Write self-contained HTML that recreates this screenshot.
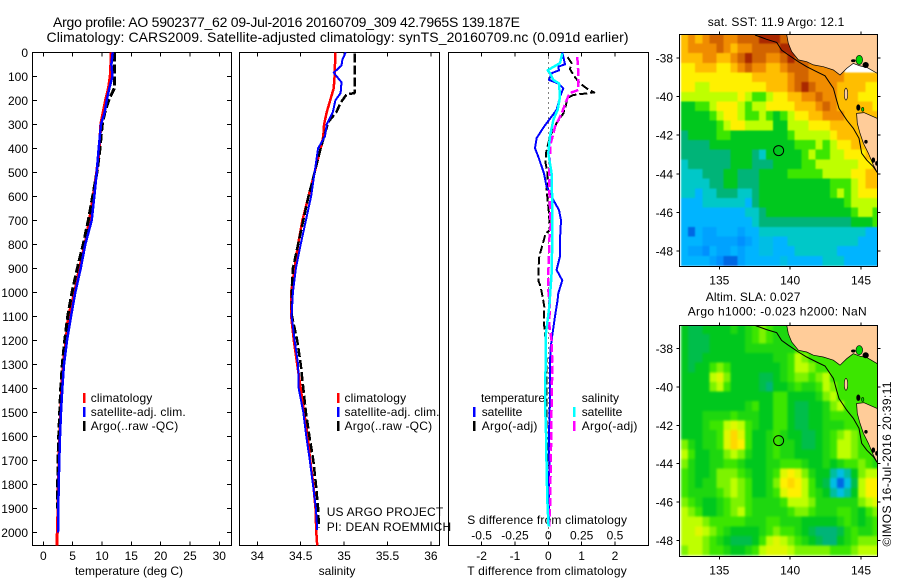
<!DOCTYPE html>
<html lang="en">
<head>
<meta charset="utf-8">
<title>Argo profile AO 5902377_62</title>
<style>
  html, body { margin: 0; padding: 0; background: #fff; }
  svg { display: block; font-family: "Liberation Sans", sans-serif; fill: #000; }
  text { font-size: 12px; }
  .main { font-size: 14px; }
  .crisp { shape-rendering: crispEdges; }
</style>
</head>
<body>
<svg id="figure" width="900" height="580" viewBox="0 0 900 580" xmlns="http://www.w3.org/2000/svg">
  <text class="main" x="53" y="27" textLength="467" lengthAdjust="spacing">Argo profile: AO 5902377_62 09-Jul-2016 20160709_309 42.7965S 139.187E</text>
  <text class="main" x="46.5" y="42" textLength="582" lengthAdjust="spacing">Climatology: CARS2009. Satellite-adjusted climatology: synTS_20160709.nc (0.091d earlier)</text>

  <text x="129" y="575" text-anchor="middle">temperature (deg C)</text>
  <text x="337" y="575" text-anchor="middle">salinity</text>
  <text x="467.3" y="575" textLength="159.4" lengthAdjust="spacing">T difference from climatology</text>
  <text x="467.3" y="524" textLength="159.7" lengthAdjust="spacing">S difference from climatology</text>

  <text x="90.7" y="402" textLength="61.6" lengthAdjust="spacing">climatology</text>
  <text x="90.7" y="416" textLength="95" lengthAdjust="spacing">satellite-adj. clim.</text>
  <text x="90.7" y="430" textLength="87.6" lengthAdjust="spacing">Argo(..raw -QC)</text>

  <text x="344.5" y="402" textLength="61.6" lengthAdjust="spacing">climatology</text>
  <text x="344.5" y="416" textLength="95" lengthAdjust="spacing">satellite-adj. clim.</text>
  <text x="344.5" y="430" textLength="87.6" lengthAdjust="spacing">Argo(..raw -QC)</text>

  <text x="481" y="402" textLength="64" lengthAdjust="spacing">temperature</text>
  <text x="481.7" y="416" textLength="40.6" lengthAdjust="spacing">satellite</text>
  <text x="481.7" y="430" textLength="55.7" lengthAdjust="spacing">Argo(-adj)</text>
  <text x="581.7" y="402" textLength="37.3" lengthAdjust="spacing">salinity</text>
  <text x="581.7" y="416" textLength="40.6" lengthAdjust="spacing">satellite</text>
  <text x="581.7" y="430" textLength="55.7" lengthAdjust="spacing">Argo(-adj)</text>

  <text x="326.7" y="516" textLength="116.5" lengthAdjust="spacing">US ARGO PROJECT</text>
  <text x="326.7" y="531" textLength="124.5" lengthAdjust="spacing">PI: DEAN ROEMMICH</text>

  <text x="707.7" y="26" textLength="136.6" lengthAdjust="spacing">sat. SST: 11.9 Argo: 12.1</text>
  <text x="705.7" y="301" textLength="94.7" lengthAdjust="spacing">Altim. SLA: 0.027</text>
  <text x="687.7" y="315.5" textLength="179" lengthAdjust="spacing">Argo h1000: -0.023 h2000: NaN</text>
  <text transform="translate(891,546.5) rotate(-90)" textLength="165" lengthAdjust="spacing">©IMOS 16-Jul-2016 20:39:11</text>
</svg>

<script>
/* ---------- profile panel 1: temperature ---------- */
const tempDepths = [0,50,100,150,200,250,300,400,500,600,700,800,900,1000,1100,1200,1300,1400,1500,1600,1700,1800,1900,2000,2054];
const tempClim = [11.54,11.5,11.4,11.1,10.6,10.2,9.8,9.55,9.1,8.5,7.85,7.1,6.15,5.35,4.26,3.87,3.4,3.13,2.96,2.79,2.68,2.56,2.5,2.39,2.3];
const tempSat = [11.83,11.6,11.8,11.25,10.8,10.46,9.83,9.44,9.1,8.7,8.25,7.16,6.37,5.45,4.72,4.04,3.53,3.24,3.02,2.85,2.73,2.62,2.56,2.5];
const tempArgo = [12.1,12.1,12.1,12.1,11.15,10.5,10.06,9.66,9.15,8.4,7.67,6.8,5.8,4.9,4.16,3.65,3.24,2.96,2.8,2.62,2.5,2.45,2.4];

/* ---------- profile panel 2: salinity ---------- */
const salClimDepths = [0,100,150,200,250,300,350,400,500,600,700,800,900,1000,1100,1200,1300,1400,1500,1600,1700,1800,1900,2000,2054];
const salClim = [34.9,34.89,34.88,34.84,34.8,34.77,34.76,34.73,34.66,34.59,34.52,34.47,34.43,34.39,34.39,34.42,34.46,34.5,34.54,34.58,34.61,34.645,34.67,34.68,34.69];
const salSatDepths = [0,30,55,85,125,170,200,250,300,350,400,500,600,700,800,900,1000,1100,1200,1300,1400,1500,1600,1700,1800,1900,1990];
const salSat = [35.02,34.98,34.97,34.88,34.97,34.96,34.9,34.87,34.8,34.78,34.7,34.66,34.62,34.56,34.5,34.445,34.41,34.395,34.43,34.47,34.477,34.53,34.565,34.605,34.64,34.675,34.69];
const salArgoDepths = [5,170,175,210,250,285,300,400,500,600,700,800,900,1000,1100,1200,1300,1400,1500,1600,1700,1800,1900,1980];
const salArgo = [35.12,35.12,35.03,34.96,34.91,34.83,34.81,34.73,34.66,34.59,34.53,34.47,34.41,34.395,34.4,34.46,34.5,34.53,34.56,34.6,34.645,34.675,34.7,34.71];

/* ---------- profile panel 3: differences from climatology ---------- */
const diffTSatDepths = [0,50,60,75,87,115,130,150,185,240,268,310,358,400,435,505,560,615,657,700,780,850,907,950,1004,1032,1100,1170,1240,1449,1587,1726,1865,1976];
const diffTSat = [.42,.5,.3,.32,.1,.02,.3,.45,.35,.25,.1,-.13,-.35,-.4,-.3,-.13,-.05,.15,.32,.38,.35,.35,.25,.42,.3,.28,.2,.13,.06,.05,.02,.03,.02,.02];
const diffTArgoDepths = [20,45,70,100,130,155,167,178,190,225,255,295,350,420,462,505,575,670,740,755,790,850,907,950,977,1018,1060,1130,1200,1310,1449,1587,1657,1726];
const diffTArgo = [.58,.7,.65,.78,.95,1.2,1.38,.75,.58,.52,.45,.25,.05,-.07,-.08,-.02,-.05,.02,.05,-.08,-.15,-.27,-.3,-.3,-.23,-.17,-.12,-.13,-.08,-.05,-.05,-.05,-.03,0];
const diffSSatDepths = [5,45,75,87,115,130,185,240,282,350,420,505,643,780,920,1060,1170,1310,1449,1587,1726,1865,1976];
const diffSSat = [.105,.0875,-.005,.0125,.0375,.08,.0875,.07,.0375,.0125,0,.025,.03,.03,.025,.0075,-.0175,-.02,-.025,-.0175,-.0125,-.0075,.0025];
const diffSArgoDepths = [20,87,157,170,200,255,310,393,435,505,575,643,727,780,850,920,990,1060,1130,1200,1310,1449,1587,1726,1865,1976];
const diffSArgo = [.2175,.225,.225,.16,.1375,.1,.05,.0125,.0125,.005,.0075,.0125,.0175,.0075,.005,0,0,.0125,.005,.025,.03,.025,.0225,.0175,.015,.005];

/* ---------- tick labels ---------- */
const depthTicks = [0,100,200,300,400,500,600,700,800,900,1000,1100,1200,1300,1400,1500,1600,1700,1800,1900,2000];
const tempTicks = [0,5,10,15,20,25,30];
const salTicks = ["34","34.5","35","35.5","36"];
const diffTTicks = [-2,-1,0,1,2];
const diffSTicks = ["-0.5","-0.25","0","0.25","0.5"];
const lonTicks = [135,140,145];
const latTicks = [38,40,42,44,46,48];

/* ---------- map fields: colour level per 0.5 degree cell, north to south ---------- */
const sstLevels = [
[9,10,9,10,11,11,10,10,11,11,11,12,12,12,11,11],
[9,10,10,10,10,11,10,9,10,10,11,11,11,11,12,12,12],
[9,9,9,10,10,9,9,10,11,12,11,11,10,10,11,12,11,11,11],
[8,8,9,9,9,8,8,9,10,11,10,10,9,9,10,11,11,11,10,10,10,10,10],
[8,8,8,8,8,8,8,8,8,8,9,9,9,9,9,10,11,11,10,10,10,10,10,9,9,9,9,9],
[8,8,7,7,8,8,8,8,8,8,8,8,9,9,9,10,11,12,11,10,10,10,9,9,9,9,8,8],
[7,7,7,7,7,7,7,7,8,7,6,6,7,8,8,9,9,10,10,11,10,10,9,9,9,8,8,8],
[5,5,6,6,7,8,8,8,7,6,7,7,8,8,8,8,9,9,9,10,11,10,9,9,9,9,9,8],
[5,5,5,5,6,7,8,8,7,6,6,7,6,5,6,7,8,8,9,9,10,10,10,9,9,9,9,9],
[5,5,5,5,5,6,7,8,8,7,7,7,7,5,5,7,7,7,8,8,8,9,9,9,9,9,9,9],
[4,5,5,5,5,6,6,5,5,5,5,5,5,5,5,6,7,7,7,7,7,8,9,9,9,9,9,9],
[4,4,4,4,5,5,5,5,5,5,5,5,5,5,5,5,6,6,6,7,6,7,8,8,9,9,9,9],
[4,4,4,4,4,4,4,5,5,5,4,3,5,5,5,5,5,6,7,6,6,7,7,8,8,8,9,9],
[3,4,4,4,4,4,4,5,5,5,4,4,4,5,5,5,5,6,6,7,7,7,7,7,7,8,8,9],
[3,3,3,4,4,4,5,5,4,4,4,5,5,5,5,6,6,6,6,6,7,7,7,7,8,8,9,9],
[3,3,3,3,4,4,5,5,4,4,4,5,5,5,5,5,5,5,5,5,5,6,6,6,7,8,9,9],
[3,3,2,3,3,4,4,4,3,3,4,5,5,5,5,5,5,5,5,5,5,6,7,6,7,8,8,8],
[2,2,2,3,3,3,3,3,3,2,4,5,5,5,5,5,5,5,5,5,5,5,5,6,7,7,7,7],
[2,2,2,2,2,2,2,2,2,3,3,4,5,5,5,5,5,5,5,5,5,5,5,5,6,7,7,6],
[2,2,2,2,2,2,2,2,2,2,3,4,4,4,4,4,4,4,4,4,4,4,4,4,5,5,5,6],
[2,0.5,2,1.5,1.5,2,2,2,1.5,2,2,3,3,3,3,3,3,3,3,3,3,3,3,3,3,3,2,2],
[2,2,2,1.5,1.5,1.5,1.5,1.5,1,1.5,2,2.5,2.5,2,2,3,3,3,3,3,3,3,3,3,3,2,2,2],
[2,1.5,1.5,1,2,1.5,1.5,2,1.5,2,2,2.5,2.5,2,2,2,3,3,3,3,3,3,2,2,2,2,2,2],
[2,2,2,2,1.5,1,0.5,0.5,1.5,2,2,2,2,2,2.5,2,2,2,2,2,3,3,3,2,2,2,2,2]
];
const slaLevels = [
[5,4.5,4.5,5,5,5,5,5.5,5,5.5,6,6.5,6,5.5,5.5,5.5],
[5,4.5,4.5,4.5,5,5,5,5,5,5.5,6,6.5,6,5.5,5.5,5.5,5.5],
[5,4.5,4.5,4.5,5,5,5,5,5,5.5,5.5,5.5,5.5,5.5,5.5,5.5,6,6,6],
[5,4.5,4.5,5,5,5,5,5,5,5,5,5,5,5.5,5.5,6,7,6.5,6,6,6,6,6,6,6,6,6,6],
[5,4.5,5,5,6,6.5,6,5,5,5,5,5,5,5,5.5,6,7,7,6.5,6,6,6,6,6,6,6,6,6],
[5,5,5,5,7,7.5,6.5,5,5,5,5,4.5,4.5,5,5.5,6,6.5,6.5,6,6.5,7,6,6,6,6,6,6,6],
[5,5,5,5,6.5,7,6,5,5,5,5,4.5,4,5,5,5.5,6,5.5,5.5,6,7,6.5,6,6,6,6,6,6],
[5,5,5,5,5,5,5,5,5,5,5,5,5,6,6,5,5,5,5,5.5,6.5,7,6,6,6,6,6,6],
[5,5,5,5,5,5,5,5,5,5.5,6,5,5,6,6,5,4.5,4.5,5,5,5.5,6.5,7,6,6,6,6,6],
[5,5,5,5.5,5.5,5.5,5.5,6,5.5,5.5,5.5,5,5,6,6,5,4.5,4.5,5,5,5.5,6,6,6,6,6,6,6],
[5,5,5,5.5,6,6,7,7.5,7,6,5.5,5,5,6,6,5,4.5,4.5,5,5,5.5,5.5,5.5,6,6,6,6,6],
[5,5,5,5.5,5.5,6,7.5,8.5,7.5,6,5,5,5.5,6,5.5,5,5,4.5,4.5,5,5.5,6,6.5,7,6.5,6,6,6],
[6.5,5.5,5,5.5,5.5,6,7.5,8.5,8,6,5,5,5.5,6,5.5,5.5,5,4.5,4.5,5,5.5,6,7,7,6.5,6,6,6],
[7,6,5,5,5.5,5.5,6.5,7,6.5,5.5,5,5,5.5,6,5.5,5.5,5,5,5,5,5.5,6,7,7,6.5,6,6,6],
[6.5,5.5,5,5,5.5,5.5,6,6,5.5,5,5,5,5.5,5.5,6,6,6,5.5,5,5,5.5,5,5.5,6,6,6.5,6,5.5],
[6,5.5,5,5,5.5,6.5,6.5,6.5,6,5.5,5,5,5.5,6,7.5,8,7.5,6.5,5.5,5,5,3.5,2.5,3.5,5,6.5,7,7],
[6,5.5,5,5.5,5.5,6.5,6.5,7,6.5,6,5,5,5.5,6.5,8,8.5,8,7,6,5,4.5,2.5,0.5,2.5,4.5,7,8,8],
[6,5.5,5.5,5.5,5.5,6,6.5,7,6.5,6,5,5,5.5,6,7.5,8,8,7,6,5.5,5,3.5,2.5,3.5,5,7,8,8],
[6.5,6,5.5,5,5,5.5,6,6.5,6.5,6,5.5,5.5,5.5,5.5,6,7,7,7,6.5,5.5,5.5,5.5,5.5,5.5,5.5,6.5,7,7.5],
[7,6.5,6,5,5,5.5,6,6.5,7,6,5.5,5.5,5.5,5.5,5.5,6,6.5,6.5,6,5.5,5.5,5.5,6,6,5.5,5,6,6.5],
[7,7,7,6.5,6,6,6,6,6,5.5,5.5,5.5,6,6,5.5,5.5,5.5,5,5,5,5,5,5.5,6,5.5,5,5.5,6],
[7,7,7.5,7,6.5,6,5.5,5,5,5,5,5.5,6,6.5,6,6,5.5,5,4.5,4,4,4,4.5,5.5,6,5.5,5.5,6],
[7,7,7,6.5,6,5.5,5,4.5,4.5,4.5,5,6,7,7.5,7,6.5,6,5.5,5,4.5,4,4,5,5.5,6,6.5,6.5,6.5],
[6.5,7,7,6.5,6,6,5.5,5,5,5.5,6,7,7.5,7.5,7.5,7,6.5,6.5,6.5,6.5,6.5,6,6,6,6.5,7,7,7]
];

/* ---------- geography in [longitude E, latitude S] ---------- */
const mainlandCoast = [[139.75,36.76],[139.87,37.24],[140.11,37.67],[140.58,38.1],[141.17,38.19],[141.64,38.36],[142.34,38.45],[143.05,38.62],[143.52,38.88],[143.99,38.54],[144.46,38.28],[144.93,38.41],[145.4,38.48],[146.15,38.8],[146.15,36.76]];
const tasmaniaCoast = [[144.69,40.87],[145.21,40.83],[146.15,41.13],[146.15,43.94],[145.87,43.54],[145.52,42.94],[145.17,42.42],[144.93,41.9],[144.74,41.39]];
const shelfContour = [[137.52,36.81],[138.34,37.03],[139.05,37.19],[139.4,37.59],[139.87,37.84],[140.58,38.19],[141.17,38.45],[141.87,38.71],[142.46,38.92],[143.05,39.57],[143.28,40.18],[143.45,40.61],[143.99,41.21],[144.46,41.64],[144.86,42.16],[145.05,42.94],[145.4,43.29],[145.87,43.63],[146.15,43.94]];
const argoPosition = [139.187,42.7965];

/* ---------- drawing helpers ---------- */
const SVGNS = 'http://www.w3.org/2000/svg';
const svg = document.getElementById('figure');
const levelStops = ['#0040c8','#0090ff','#00b4ff','#00c8c8','#00b478','#00c81e','#3ce600','#beff00','#fff000','#ffbe00','#f08c00','#d26400','#aa2800'];

function make(tag, parent, props) {
  const el = document.createElementNS(SVGNS, tag);
  for (const k in props) el.setAttribute(k, props[k]);
  parent.appendChild(el);
  return el;
}
function hexToRgb(h) {
  return [parseInt(h.slice(1,3),16), parseInt(h.slice(3,5),16), parseInt(h.slice(5,7),16)];
}
function levelColor(v) {
  const i = Math.max(0, Math.min(levelStops.length - 2, Math.floor(v)));
  const f = Math.max(0, Math.min(1, v - i));
  const a = hexToRgb(levelStops[i]), b = hexToRgb(levelStops[i + 1]);
  return 'rgb(' + a.map((c, n) => Math.round(c + (b[n] - c) * f)).join(',') + ')';
}
function yDepth(d) { return 52.3 + 0.24 * d; }
function xTemp(t) { return 43.3 + 5.867 * t; }
function xSal(s) { return 257.3 + 86.8 * (s - 34); }
function xDiffT(t) { return 548.3 + 33.33 * t; }
function xDiffS(s) { return 548.3 + 133.3 * s; }

function addFrame(name, x0, x1, y0, y1) {
  const r = make('rect', svg, {x: x0, y: y0, width: x1 - x0, height: y1 - y0, fill: 'none', stroke: '#000', 'stroke-width': 1, class: 'crisp'});
  
  
}
function addLine(name, x1, y1, x2, y2) {
  const l = make('line', svg, {x1, y1, x2, y2, stroke: '#000', 'stroke-width': 1, class: 'crisp'});
  
  
}
function addLabel(name, x, y, str, anchor) {
  const t = make('text', svg, {x, y, 'text-anchor': anchor});
  t.textContent = str;
  
  
}
function addSeries(name, depths, values, xFn, color, width, dash) {
  const pts = values.map((v, i) => xFn(v).toFixed(1) + ',' + yDepth(depths[i]).toFixed(1)).join(' ');
  const p = make('polyline', svg, {points: pts, fill: 'none', stroke: color, 'stroke-width': width, class: 'crisp', 'stroke-linejoin': 'round'});
  if (dash) p.setAttribute('stroke-dasharray', dash);
  
  
}
function addLegendMark(name, x, y, color) {
  const r = make('rect', svg, {x, y, width: 2.5, height: 10, fill: color, class: 'crisp'});
  
  
}

/* ---------- profile panels ---------- */
const panelTop = 52.5, panelBottom = 545.5;
function addProfileAxes(prefix, x0, x1, ticksX) {
  addFrame(prefix + '-frame', x0, x1, panelTop, panelBottom);
  ticksX.forEach(function (x, i) {
    addLine(prefix + '-top-tick-' + i, x, panelTop, x, panelTop + 4);
    addLine(prefix + '-bottom-tick-' + i, x, panelBottom - 4, x, panelBottom);
  });
}

addProfileAxes('temperature-panel', 32.5, 231.5, tempTicks.map(xTemp));
addProfileAxes('salinity-panel', 239.5, 439.5, salTicks.map(s => xSal(parseFloat(s))));
addProfileAxes('difference-panel', 448.5, 648.5, diffTTicks.map(xDiffT));

depthTicks.forEach(function (d) {
  const y = yDepth(d);
  addLine('depth-tick-left-' + d, 32.5, y, 37, y);
  addLine('depth-tick-right-' + d, 227, y, 231.5, y);
  addLabel('depth-label-' + d, 28, y + 4.5, String(d), 'end');
});
tempTicks.forEach(function (t) { addLabel('temperature-label-' + t, xTemp(t), 560, String(t), 'middle'); });
salTicks.forEach(function (s) { addLabel('salinity-label-' + s, xSal(parseFloat(s)), 560, s, 'middle'); });
diffTTicks.forEach(function (t) { addLabel('t-diff-label-' + t, xDiffT(t), 560, String(t), 'middle'); });
diffSTicks.forEach(function (s) { addLabel('s-diff-label-' + s, xDiffS(parseFloat(s)), 539.5, s, 'middle'); });

addSeries('temperature-climatology-line', tempDepths, tempClim, xTemp, '#ff0000', 3);
addSeries('temperature-argo-line', tempDepths, tempArgo, xTemp, '#000000', 3, '9 3');
addSeries('temperature-satellite-line', tempDepths, tempSat, xTemp, '#0000ff', 2.5);

addSeries('salinity-climatology-line', salClimDepths, salClim, xSal, '#ff0000', 2.5);
addSeries('salinity-argo-line', salArgoDepths, salArgo, xSal, '#000000', 2.5, '9 3');
addSeries('salinity-satellite-line', salSatDepths, salSat, xSal, '#0000ff', 2);

addLine('difference-zero-line', 548.3, panelTop, 548.3, panelBottom);
svg.lastChild.setAttribute('stroke-dasharray', '1 4');
addSeries('t-diff-argo-line', diffTArgoDepths, diffTArgo, xDiffT, '#000000', 2, '8 3');
addSeries('t-diff-satellite-line', diffTSatDepths, diffTSat, xDiffT, '#0000ff', 2);
addSeries('s-diff-argo-line', diffSArgoDepths, diffSArgo, xDiffS, '#ff00ff', 2.5, '8 3');
addSeries('s-diff-satellite-line', diffSSatDepths, diffSSat, xDiffS, '#00ffff', 2.5);

addLegendMark('legend-temp-climatology-mark', 83, 393, '#ff0000');
addLegendMark('legend-temp-satellite-mark', 83, 407, '#0000ff');
addLegendMark('legend-temp-argo-mark', 83, 421, '#000000');
addLegendMark('legend-sal-climatology-mark', 337, 393, '#ff0000');
addLegendMark('legend-sal-satellite-mark', 337, 407, '#0000ff');
addLegendMark('legend-sal-argo-mark', 337, 421, '#000000');
addLegendMark('legend-diff-t-satellite-mark', 473, 407, '#0000ff');
addLegendMark('legend-diff-t-argo-mark', 473, 421, '#000000');
addLegendMark('legend-diff-s-satellite-mark', 573, 407, '#00ffff');
addLegendMark('legend-diff-s-argo-mark', 573, 421, '#ff00ff');

/* ---------- maps ---------- */
function islandPatches() {
  return [
    {lon: 143.94, lat: 39.87, rx: .12, ry: .31, fill: '#ffcc99', name: 'king-island'},
    {lon: 144.88, lat: 38.10, rx: .235, ry: .24, fill: '#00d800', name: 'green-islet'},
    {lon: 144.46, lat: 38.14, rx: .14, ry: .06, fill: '#000000', name: 'black-islet-a'},
    {lon: 145.33, lat: 38.36, rx: .2, ry: .14, fill: '#000000', name: 'black-islet-b'},
    {lon: 144.81, lat: 40.57, rx: .12, ry: .15, fill: '#000000', name: 'black-islet-c'},
    {lon: 145.12, lat: 40.66, rx: .08, ry: .1, fill: '#00d800', name: 'green-islet-b'},
    {lon: 145.35, lat: 42.34, rx: .1, ry: .08, fill: '#000000', name: 'black-islet-d'},
    {lon: 145.87, lat: 43.29, rx: .1, ry: .12, fill: '#000000', name: 'black-islet-e'},
    {lon: 146.1, lat: 43.46, rx: .08, ry: .1, fill: '#000000', name: 'black-islet-f'}
  ];
}
function drawMap(prefix, levels, top, bottom, lat38y, pxPerLat, clipId, blurPx) {
  const left = 679.5, right = 877.5;
  const xLon = lon => 719.3 + 14.17 * (lon - 135);
  const yLat = lat => lat38y + pxPerLat * (lat - 38);

  const defs = make('defs', svg, {});
  const clip = make('clipPath', defs, {id: clipId});
  make('rect', clip, {x: left, y: top, width: right - left, height: bottom - top});

  const outer = make('g', svg, {'clip-path': 'url(#' + clipId + ')'});
  
  

  const cells = make('g', outer, {class: 'crisp'});
  if (blurPx) cells.setAttribute('style', 'filter: blur(' + blurPx + 'px)');
  
  
  levels.forEach(function (row, r) {
    row.forEach(function (v, c) {
      const lon = 132.3 + c * 0.5, lat = 36.75 + r * 0.5;
      const cell = make('rect', cells, {
        x: xLon(lon).toFixed(2), y: yLat(lat).toFixed(2),
        width: (14.17 * 0.5 + 0.4).toFixed(2), height: (pxPerLat * 0.5 + 0.4).toFixed(2),
        fill: levelColor(v)
      });
      
      
    });
  });

  const toPts = arr => arr.map(p => xLon(p[0]).toFixed(1) + ',' + yLat(p[1]).toFixed(1)).join(' ');
  const main = make('polygon', outer, {points: toPts(mainlandCoast), fill: '#ffcc99', stroke: '#000', 'stroke-width': .7});
  
  
  const tas = make('polygon', outer, {points: toPts(tasmaniaCoast), fill: '#ffcc99', stroke: '#000', 'stroke-width': .7});
  
  

  islandPatches().forEach(function (s) {
    const e = make('ellipse', outer, {
      cx: xLon(s.lon), cy: yLat(s.lat), rx: s.rx * 14.17, ry: s.ry * pxPerLat,
      fill: s.fill, stroke: '#000', 'stroke-width': .6
    });
    
    
  });

  const shelf = make('polyline', outer, {points: toPts(shelfContour), fill: 'none', stroke: '#000', 'stroke-width': 1});
  
  

  const ring = make('circle', outer, {cx: xLon(argoPosition[0]), cy: yLat(argoPosition[1]), r: 5, fill: 'none', stroke: '#000', 'stroke-width': 1});
  
  

  addFrame(prefix + '-map-frame', left, right, top, bottom);
  lonTicks.forEach(function (lon) {
    const x = xLon(lon);
    addLine(prefix + '-lon-tick-top-' + lon, x, top - 3, x, top);
    addLine(prefix + '-lon-tick-bottom-' + lon, x, bottom, x, bottom + 3);
    addLabel(prefix + '-lon-label-' + lon, x, bottom + 18, String(lon), 'middle');
  });
  latTicks.forEach(function (lat) {
    const y = yLat(lat);
    addLine(prefix + '-lat-tick-left-' + lat, left - 3, y, left, y);
    addLine(prefix + '-lat-tick-right-' + lat, right, y, right + 3, y);
    addLabel(prefix + '-lat-label-' + lat, 673, y + 4.5, '-' + lat, 'end');
  });
}
drawMap('sst', sstLevels, 34.5, 266.5, 58, 19.3, 'clip-sst', 0.8);
drawMap('sla', slaLevels, 325.5, 556.5, 348.3, 19.24, 'clip-sla', 1);
</script>
</body>
</html>
